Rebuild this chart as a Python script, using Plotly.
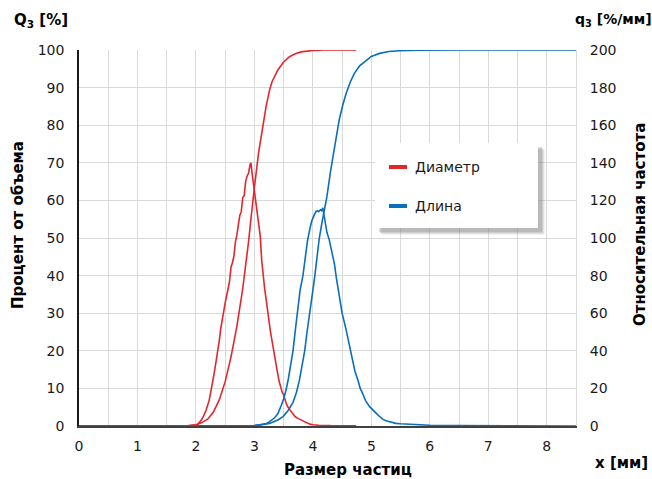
import plotly.graph_objects as go

# ---- data ----
diam_q_x = [0, 1.5, 1.9, 2.00, 2.025, 2.05, 2.075, 2.10, 2.125, 2.15, 2.175, 2.20, 2.225, 2.25, 2.275,
            2.30, 2.325, 2.35, 2.375, 2.40, 2.425, 2.45, 2.475, 2.50, 2.525, 2.55, 2.575, 2.60, 2.625,
            2.65, 2.675, 2.70, 2.725, 2.75, 2.775, 2.80, 2.825, 2.85, 2.875, 2.90, 2.925, 2.94, 2.96,
            2.975, 3.00, 3.025, 3.05, 3.075, 3.10, 3.125, 3.15, 3.175, 3.20, 3.225, 3.25, 3.275, 3.30,
            3.325, 3.35, 3.375, 3.40, 3.425, 3.45, 3.475, 3.50, 3.525, 3.55, 3.575, 3.60, 3.625, 3.65,
            3.675, 3.70, 3.75, 3.80, 3.85, 3.90, 3.95, 4.00, 4.10, 4.30, 4.74]
diam_q = [0, 0, 0.2, 0.5, 0.8, 1.6, 2.5, 3.6, 5.0, 6.4, 8.5, 11.0, 13.5, 17.5, 21.0,
          26.0, 30.5, 35.0, 41.0, 45.5, 52.0, 57.5, 61.0, 65.5, 70.5, 73.0, 77.0, 84.5, 87.0,
          90.5, 98.0, 101.5, 107.0, 112.0, 114.0, 121.5, 122.5, 130.0, 133.0, 134.5, 139.0, 140.0, 134.5,
          131.0, 126.0, 120.0, 115.0, 108.0, 101.0, 88.0, 79.0, 73.0, 67.5, 61.0, 56.0, 50.0, 45.5,
          40.5, 36.5, 32.5, 27.5, 23.5, 20.5, 18.0, 16.5, 13.5, 11.5, 10.0, 8.6, 7.8, 6.8,
          5.6, 4.9, 3.9, 3.2, 2.3, 1.6, 1.0, 0.7, 0.4, 0.2, 0.1]

diam_Q_x = [0, 1.8, 2.0, 2.1, 2.2, 2.3, 2.4, 2.5, 2.6, 2.7, 2.8, 2.86, 2.9, 2.94, 2.97, 3.0, 3.07,
            3.15, 3.2, 3.26, 3.3, 3.4, 3.5, 3.6, 3.7, 3.8, 3.9, 4.0, 4.2, 4.74]
diam_Q = [0, 0, 0.3, 0.9, 1.8, 3.7, 7.0, 11.8, 18.4, 26.5, 36.5, 43.5, 49.0, 55.0, 59.5, 63.5, 72.5,
          80.5, 85.0, 89.4, 91.5, 94.7, 96.8, 98.2, 99.0, 99.5, 99.8, 99.9, 100, 100]

len_q_x = [0, 2.5, 3.0, 3.1, 3.2, 3.26, 3.3, 3.35, 3.4, 3.43, 3.46, 3.5, 3.54, 3.58, 3.62, 3.66,
           3.70, 3.74, 3.78, 3.83, 3.87, 3.91, 3.95, 3.98, 4.02, 4.05, 4.08, 4.10, 4.13, 4.15,
           4.17, 4.20, 4.24, 4.28, 4.31, 4.34, 4.37, 4.40, 4.45, 4.50, 4.57, 4.62, 4.68, 4.72,
           4.77, 4.81, 4.85, 4.90, 4.97, 5.02, 5.07, 5.11, 5.15, 5.20, 5.25, 5.30, 5.35, 5.42,
           5.50, 5.65, 5.80, 6.00, 6.50, 7.00, 8.50]
len_q = [0, 0, 0.3, 0.6, 1.2, 2.3, 3.2, 4.5, 6.5, 8.5, 11.0, 14.5, 19.0, 25.0, 32.0, 40.0,
         51.0, 63.5, 72.0, 80.0, 90.0, 99.0, 105.0, 109.0, 112.0, 114.0, 114.5, 114.0, 115.0, 114.5,
         116.0, 111.0, 103.0, 99.0, 94.5, 91.0, 86.0, 79.0, 69.0, 60.0, 51.0, 43.0, 35.0, 29.0,
         24.5, 20.0, 17.4, 13.5, 10.3, 8.6, 7.0, 5.9, 4.8, 3.5, 2.8, 2.3, 1.8, 1.4,
         1.2, 0.9, 0.6, 0.4, 0.2, 0.1, 0.0]

len_Q_x = [0, 2.8, 3.0, 3.26, 3.4, 3.49, 3.58, 3.66, 3.72, 3.77, 3.82, 3.86, 3.90, 3.94, 3.99, 4.03,
           4.07, 4.11, 4.16, 4.20, 4.24, 4.30, 4.36, 4.40, 4.45, 4.51, 4.57, 4.64, 4.71, 4.80,
           4.91, 5.00, 5.14, 5.30, 5.48, 5.80, 6.50, 8.50]
len_Q = [0, 0, 0.1, 0.7, 1.6, 2.5, 4.2, 6.3, 9.0, 12.2, 16.3, 20.0, 25.0, 30.0, 35.0, 39.5,
         45.0, 50.0, 54.5, 57.5, 61.0, 67.5, 73.0, 77.0, 81.4, 85.3, 88.5, 91.5, 93.8, 95.8,
         97.3, 98.3, 99.1, 99.6, 99.8, 99.95, 100, 100]

x_ticks = [0, 1, 2, 3, 4, 5, 6, 7, 8]
series_names = ["Диаметр", "Длина"]

RED = "#E3262E"
BLUE = "#0A6EBD"
FONT = "DejaVu Sans"
GRID = "#D9D9D9"

fig = go.Figure()
fig.add_trace(go.Scatter(x=diam_Q_x, y=diam_Q, mode="lines", line=dict(color=RED, width=1.6),
                         name=series_names[0], yaxis="y", showlegend=False))
fig.add_trace(go.Scatter(x=diam_q_x, y=diam_q, mode="lines", line=dict(color=RED, width=1.6),
                         name=series_names[0], yaxis="y2", showlegend=False))
fig.add_trace(go.Scatter(x=len_Q_x, y=len_Q, mode="lines", line=dict(color=BLUE, width=1.6),
                         name=series_names[1], yaxis="y", showlegend=False))
fig.add_trace(go.Scatter(x=len_q_x, y=len_q, mode="lines", line=dict(color=BLUE, width=1.6),
                         name=series_names[1], yaxis="y2", showlegend=False))

# legend box with shadow (drawn manually)
shapes = []
for off, op in [(7, 0.10), (6, 0.15), (5, 0.2), (4, 0.25)]:
    shapes.append(dict(type="rect", xref="paper", yref="paper",
                       x0=(375 - 79 + off) / 497, x1=(538 - 79 + off) / 497,
                       y0=(426 - 228 - off) / 376, y1=(426 - 143 - off) / 376,
                       fillcolor="#7f7f7f", opacity=op, line=dict(width=0), layer="above"))
shapes.append(dict(type="rect", xref="paper", yref="paper",
                   x0=(375 - 79) / 497, x1=(538 - 79) / 497,
                   y0=(426 - 228) / 376, y1=(426 - 143) / 376,
                   fillcolor="white", line=dict(width=0), layer="above"))
for py, col in [(167, RED), (206, BLUE)]:
    shapes.append(dict(type="line", xref="paper", yref="paper",
                       x0=(389 - 79) / 497, x1=(407 - 79) / 497,
                       y0=(426 - py) / 376, y1=(426 - py) / 376,
                       line=dict(color=col, width=4), layer="above"))

annotations = [
    dict(text=series_names[0], x=(413 - 79) / 497, y=(426 - 167) / 376, xref="paper", yref="paper",
         xanchor="left", yanchor="middle", showarrow=False, font=dict(family=FONT, size=14, color="#1a1a1a")),
    dict(text=series_names[1], x=(413 - 79) / 497, y=(426 - 206) / 376, xref="paper", yref="paper",
         xanchor="left", yanchor="middle", showarrow=False, font=dict(family=FONT, size=14, color="#1a1a1a")),
    dict(text="<b>Q<sub>3</sub> [%]</b>", x=(12 - 79) / 497, y=(426 - 20) / 376, xref="paper", yref="paper",
         xanchor="left", yanchor="middle", showarrow=False, font=dict(family=FONT, size=15, color="#000")),
    dict(text="<b>q<sub>3</sub> [%/мм]</b>", x=(573 - 79) / 497, y=(426 - 20) / 376, xref="paper", yref="paper",
         xanchor="left", yanchor="middle", showarrow=False, font=dict(family=FONT, size=14, color="#000")),
    dict(text="<b>Процент от объема</b>", x=(18 - 79) / 497, y=(426 - 225) / 376, xref="paper", yref="paper",
         xanchor="center", yanchor="middle", textangle=-90, showarrow=False,
         font=dict(family=FONT, size=15, color="#000")),
    dict(text="<b>Относительная частота</b>", x=(640 - 79) / 497, y=(426 - 225) / 376, xref="paper", yref="paper",
         xanchor="center", yanchor="middle", textangle=-90, showarrow=False,
         font=dict(family=FONT, size=15, color="#000")),
    dict(text="<b>Размер частиц</b>", x=(348 - 79) / 497, y=(426 - 470) / 376, xref="paper", yref="paper",
         xanchor="center", yanchor="middle", showarrow=False, font=dict(family=FONT, size=15, color="#000")),
    dict(text="<b>x [мм]</b>", x=(593 - 79) / 497, y=(426 - 463) / 376, xref="paper", yref="paper",
         xanchor="left", yanchor="middle", showarrow=False, font=dict(family=FONT, size=15, color="#000")),
]

fig.update_layout(
    width=652, height=479,
    margin=dict(l=79, r=76, t=50, b=53),
    paper_bgcolor="white", plot_bgcolor="white",
    font=dict(family=FONT, size=14, color="#1a1a1a"),
    showlegend=False,
    shapes=shapes, annotations=annotations,
    xaxis=dict(range=[0, 8.5], tickvals=x_ticks, showgrid=True, gridcolor=GRID, gridwidth=1,
               minor=dict(dtick=0.5, showgrid=True, gridcolor=GRID, gridwidth=1),
               showline=True, linecolor="#404040", linewidth=1.5, zeroline=False,
               ticks="", ticklabelstandoff=6, tickfont=dict(size=14)),
    yaxis=dict(range=[0, 100], dtick=10, showgrid=True, gridcolor=GRID, gridwidth=1,
               showline=True, linecolor="#1a1a1a", linewidth=1.5, zeroline=False,
               ticks="", ticklabelstandoff=10, tickfont=dict(size=14)),
    yaxis2=dict(range=[0, 200], dtick=20, overlaying="y", side="right", showgrid=False,
                showline=True, linecolor=GRID, linewidth=1, zeroline=False,
                ticks="", ticklabelstandoff=10, tickfont=dict(size=14)),
)

fig.write_html("out.html")
